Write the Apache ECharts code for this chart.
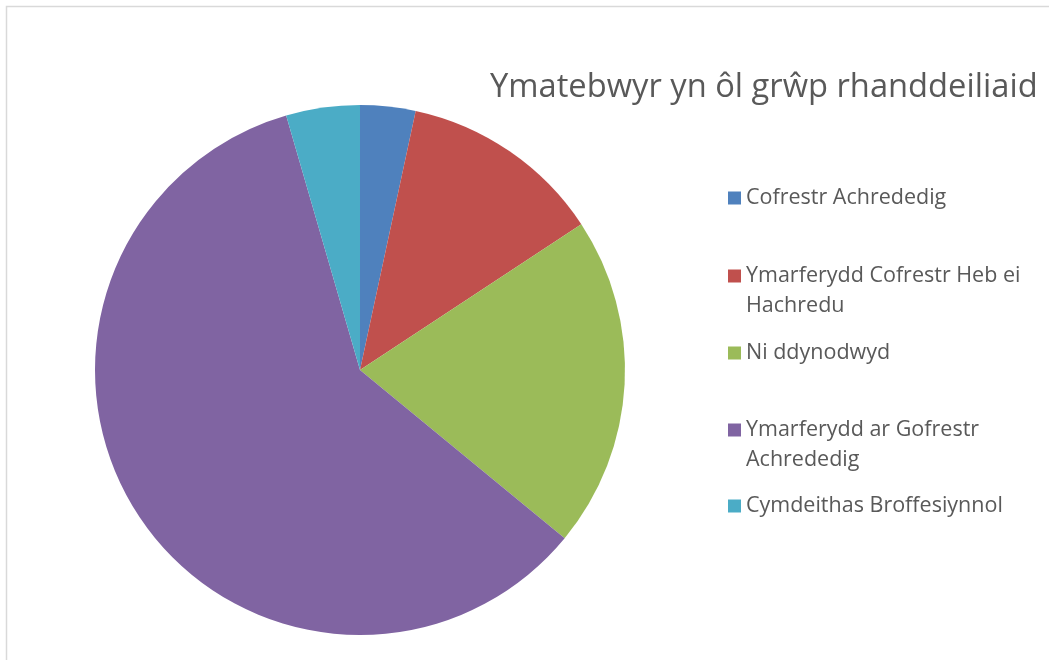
<!DOCTYPE html>
<html>
<head>
<meta charset="utf-8">
<script src="https://cdn.jsdelivr.net/npm/echarts@6/dist/echarts.min.js"></script>
<style>
  html, body { margin: 0; padding: 0; background: #fff; }
  #main { width: 1049px; height: 660px; }
</style>
</head>
<body>
<div id="main"></div>
<script>
// data
const titleText = "Ymatebwyr yn ôl grŵp rhanddeiliaid";
const groups = [
  "Cofrestr Achrededig",
  "Ymarferydd Cofrestr Heb ei Hachredu",
  "Ni ddynodwyd",
  "Ymarferydd ar Gofrestr Achrededig",
  "Cymdeithas Broffesiynnol"
];
// legend text as Excel wraps it
const legendLabels = [
  ["Cofrestr Achrededig"],
  ["Ymarferydd Cofrestr Heb ei", "Hachredu"],
  ["Ni ddynodwyd"],
  ["Ymarferydd ar Gofrestr", "Achrededig"],
  ["Cymdeithas Broffesiynnol"]
];
const counts = [3, 11, 18, 53, 4];
const colors = ["#4F81BD", "#C0504D", "#9BBB59", "#8064A2", "#4BACC6"];

const fontFam = "'Open Sans', 'Liberation Sans', sans-serif";
const textGrey = "#595959";

// icon centre y for every legend entry
const legendIconY = [198, 276, 353, 430, 506];

const legends = groups.map(function (name, i) {
  const lines = legendLabels[i];
  const twoLines = lines.length > 1;
  // the legend centres its text on the icon, so a blank first line
  // keeps the icon level with the first visible line
  const txt = twoLines ? "\n" + lines.join("\n") : lines[0];
  return {
    orient: "vertical",
    left: 728,
    top: twoLines ? legendIconY[i] - 45 : legendIconY[i] - 15,
    padding: 0,
    itemWidth: 13,
    itemHeight: 13,
    icon: "rect",
    selectedMode: false,
    data: [name],
    formatter: function () { return txt; },
    textStyle: {
      fontFamily: fontFam,
      fontSize: 21.5,
      color: textGrey,
      lineHeight: 30
    }
  };
});

const chart = echarts.init(document.getElementById("main"), null, { renderer: "canvas" });

chart.setOption({
  backgroundColor: "#fff",
  animation: false,
  color: colors,
  title: {
    text: titleText,
    left: 490,
    top: 71,
    padding: 0,
    textStyle: {
      fontFamily: fontFam,
      fontSize: 32.7,
      fontWeight: "normal",
      color: textGrey
    }
  },
  legend: legends,
  graphic: [
    {
      type: "rect",
      shape: { x: 6.5, y: 6.5, width: 1100, height: 700 },
      style: { fill: "none", stroke: "#d9d9d9", lineWidth: 1.5 },
      silent: true
    }
  ],
  series: [
    {
      type: "pie",
      center: [360, 370],
      radius: 265,
      startAngle: 90,
      clockwise: true,
      label: { show: false },
      labelLine: { show: false },
      emphasis: { disabled: true },
      itemStyle: { borderWidth: 0 },
      data: groups.map(function (g, i) {
        return { name: g, value: counts[i] };
      })
    }
  ]
});
</script>
</body>
</html>
